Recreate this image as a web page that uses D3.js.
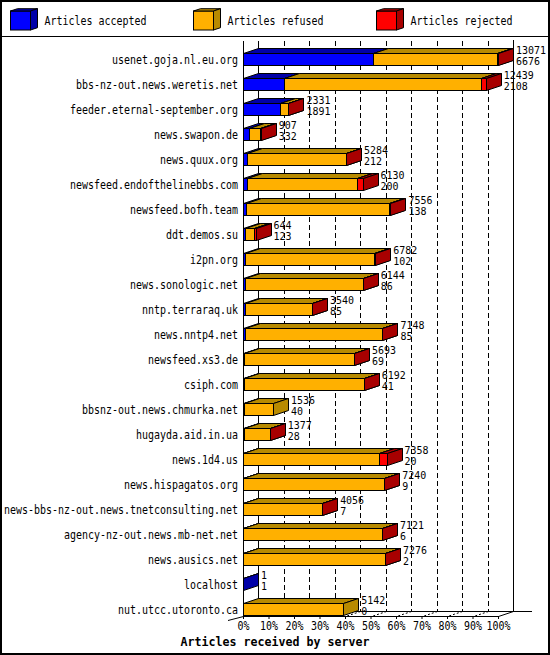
<!DOCTYPE html>
<html><head><meta charset="utf-8">
<script src="https://cdn.jsdelivr.net/npm/d3@7/dist/d3.min.js"></script>
<style>body{margin:0;background:#fff}svg{display:block}</style>
</head><body>
<script>
const servers = ["usenet.goja.nl.eu.org","bbs-nz-out.news.weretis.net","feeder.eternal-september.org","news.swapon.de","news.quux.org","newsfeed.endofthelinebbs.com","newsfeed.bofh.team","ddt.demos.su","i2pn.org","news.sonologic.net","nntp.terraraq.uk","news.nntp4.net","newsfeed.xs3.de","csiph.com","bbsnz-out.news.chmurka.net","hugayda.aid.in.ua","news.1d4.us","news.hispagatos.org","news-bbs-nz-out.news.tnetconsulting.net","agency-nz-out.news.mb-net.net","news.ausics.net","localhost","nut.utcc.utoronto.ca"];
const offered  = [13071,12439,2331,907,5284,6130,7556,644,6782,6144,3540,7148,5693,6192,1536,1377,7358,7240,4056,7121,7276,1,5142];
const accepted = [6676,2108,1891,332,212,200,138,123,102,86,85,85,69,41,40,28,20,9,7,6,2,1,0];
const refused  = [6335,10081,420,565,5067,5640,7328,461,6600,6053,3450,7033,5619,6141,1496,1344,6968,7226,4044,7110,7269,0,5142];
const rejected = [60,250,20,10,5,290,90,60,80,5,5,30,5,10,0,5,370,5,5,5,5,0,0];
const seriesNames = ["Articles accepted","Articles refused","Articles rejected"];
const tickValues = [0,10,20,30,40,50,60,70,80,90,100];
const tickLabels = ["0%","10%","20%","30%","40%","50%","60%","70%","80%","90%","100%"];
const xTitle = "Articles received by server";

(function () {
const W = 550, H = 655;
const front = ["#0000ff","#ffb000","#ff0000"];
const shade = ["#0000a8","#b88a00","#a80000"];
const DX = 15, DY = 5;
const FONT = "'DejaVu Sans Mono', 'Liberation Mono', monospace";

const svg = d3.select("body").append("svg").attr("width", W).attr("height", H);
svg.append("rect").attr("width", W).attr("height", H).attr("fill", "#fff");

const maxTotal = d3.max(offered);
const x = d3.scaleLinear().domain([0, 100]).range([243, 498]);
const y = d3.scaleBand().domain(servers).range([47.2, 622.2]).paddingInner(0.5).paddingOuter(0.25);
const pct = v => v / maxTotal * 100;

function monoText(g, str, cw, size, bold) {
  return g.append("text").text(str)
    .attr("font-family", FONT).attr("font-size", size)
    .attr("font-weight", bold ? "bold" : "normal")
    .attr("textLength", str.length * cw).attr("lengthAdjust", "spacingAndGlyphs")
    .attr("fill", "#000");
}

// Legend
const leg = svg.append("g");
const legX = [10.5, 193.5, 376.5];
seriesNames.forEach((name, i) => {
  const bx = legX[i], by = 11, bw = 20, bh = 19, ldx = 7, ldy = 2.3;
  leg.append("rect").attr("x", bx).attr("y", by).attr("width", bw).attr("height", bh)
    .attr("fill", front[i]).attr("stroke", "#000");
  leg.append("path").attr("d", `M${bx},${by}L${bx+ldx},${by-ldy}L${bx+bw+ldx},${by-ldy}L${bx+bw},${by}Z`)
    .attr("fill", shade[i]).attr("stroke", "#000");
  leg.append("path").attr("d", `M${bx+bw},${by}L${bx+bw+ldx},${by-ldy}L${bx+bw+ldx},${by+bh-ldy}L${bx+bw},${by+bh}Z`)
    .attr("fill", shade[i]).attr("stroke", "#000");
  monoText(leg, name, 6, 12, false).attr("x", bx + 34).attr("y", 24.5);
});
svg.append("line").attr("x1", 0).attr("x2", W).attr("y1", 36.5).attr("y2", 36.5).attr("stroke", "#000");

// Grid on back wall and floor
const grid = svg.append("g").attr("stroke", "#000").attr("fill", "none");
const floorBack = 611.5, floorFront = 616.5, topY = 41;
tickValues.forEach(v => {
  const xf = Math.round(x(v)) + 0.5, xb = xf + DX;
  const dashed = v !== 0 && v !== 100;
  grid.append("line").attr("x1", xb).attr("x2", xb).attr("y1", v === 100 ? 40 : topY).attr("y2", floorBack)
    .attr("stroke-dasharray", dashed ? "5,3" : null);
  if (v !== 100) {
    grid.append("line").attr("x1", xb).attr("y1", floorBack).attr("x2", xf).attr("y2", floorFront)
      .attr("stroke-dasharray", dashed ? "2,2" : null);
  }
});
grid.append("line").attr("x1", Math.round(x(0)) + 0.5 + DX).attr("x2", 532).attr("y1", floorBack).attr("y2", floorBack);
grid.append("line").attr("x1", Math.round(x(100)) + 0.5).attr("y1", floorFront).attr("x2", Math.round(x(100)) + 0.5 + DX).attr("y2", floorBack);
grid.append("line").attr("x1", 228).attr("y1", floorFront + 4).attr("x2", Math.round(x(0)) + 0.5).attr("y2", floorFront);
grid.append("line").attr("x1", Math.round(x(0)) + 0.5).attr("x2", Math.round(x(0)) + 0.5).attr("y1", topY).attr("y2", floorFront);

// Bars
const bars = svg.append("g").attr("stroke", "#000").attr("stroke-linejoin", "miter");
servers.forEach((s, i) => {
  const vals = [accepted[i], refused[i], rejected[i]];
  const ty = Math.round(y(s)) + 0.5, h = Math.round(y.bandwidth() - 0.5);
  let cum = 0;
  vals.forEach((v, k) => {
    if (v <= 0) return;
    const xa = Math.round(x(pct(cum))) + 0.5;
    cum += v;
    const xb = Math.round(x(pct(cum))) + 0.5;
    bars.append("rect").attr("x", xa).attr("y", ty).attr("width", xb - xa).attr("height", h).attr("fill", front[k]);
    bars.append("path").attr("d", `M${xa},${ty}L${xa+DX},${ty-DY}L${xb+DX},${ty-DY}L${xb},${ty}Z`).attr("fill", shade[k]);
    bars.append("path").attr("d", `M${xb},${ty}L${xb+DX},${ty-DY}L${xb+DX},${ty+h-DY}L${xb},${ty+h}Z`).attr("fill", shade[k]);
  });
});

// Category labels
const labels = svg.append("g");
servers.forEach(s => {
  const c = y(s) + y.bandwidth() / 2;
  monoText(labels, s, 6, 12, false).attr("x", 238).attr("y", c + 4.3).attr("text-anchor", "end");
});

// Value labels
servers.forEach((s, i) => {
  const c = y(s) + y.bandwidth() / 2;
  const xe = x(pct(offered[i])) + DX + 3;
  monoText(labels, String(offered[i]), 6, 11, false).attr("x", xe).attr("y", c - 5.8);
  monoText(labels, String(accepted[i]), 6, 11, false).attr("x", xe).attr("y", c + 5.3);
});

// Axis
const axis = d3.axisBottom(x).tickValues(tickValues).tickSize(3).tickSizeOuter(0)
  .tickFormat((d, i) => tickLabels[i]);
const ag = svg.append("g").attr("transform", `translate(0,${floorFront - 0.5})`).call(axis);
ag.selectAll("text").remove();
ag.selectAll(".tick").each(function(d, i) {
  monoText(d3.select(this), tickLabels[i], 6, 12, false).attr("x", 0).attr("y", 13.5).attr("text-anchor", "middle");
});
ag.select(".domain").attr("stroke", "#000");

monoText(svg, xTitle, 7, 12.5, true).attr("x", W / 2).attr("y", 645.5).attr("text-anchor", "middle");

// Outer border
svg.append("rect").attr("x", 1).attr("y", 1).attr("width", W - 2).attr("height", H - 2)
  .attr("fill", "none").attr("stroke", "#000").attr("stroke-width", 2);
})();
</script>
</body></html>
